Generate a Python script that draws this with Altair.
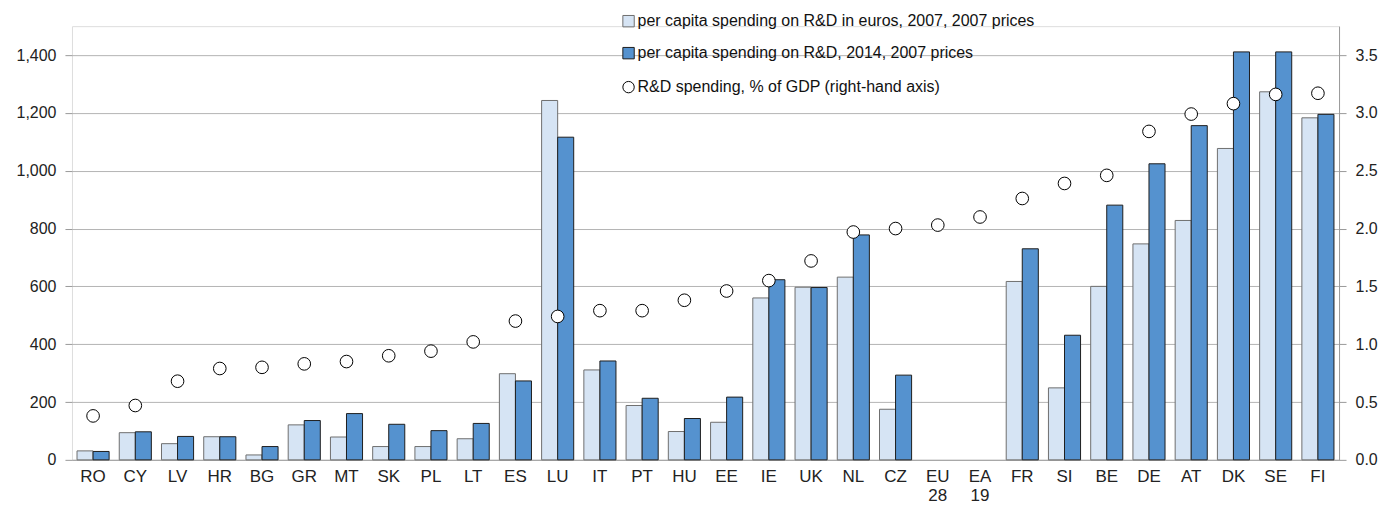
import altair as alt
import pandas as pd

countries = ["RO", "CY", "LV", "HR", "BG", "GR", "MT", "SK", "PL", "LT", "ES", "LU", "IT", "PT", "HU",
             "EE", "IE", "UK", "NL", "CZ", "EU 28", "EA 19", "FR", "SI", "BE", "DE", "AT", "DK", "SE", "FI"]
spend_2007 = [31, 94, 56, 80, 17, 121, 79, 46, 46, 73, 298, 1243, 311, 188, 98,
              130, 560, 597, 632, 175, None, None, 617, 249, 600, 747, 828, 1077, 1273, 1183]
spend_2014 = [29, 97, 81, 80, 46, 136, 160, 123, 101, 126, 273, 1116, 342, 213, 143,
              217, 623, 596, 778, 293, None, None, 730, 431, 881, 1024, 1156, 1411, 1411, 1195]
gdp_share = [0.38, 0.47, 0.68, 0.79, 0.80, 0.83, 0.85, 0.90, 0.94, 1.02, 1.20, 1.24, 1.29, 1.29, 1.38,
             1.46, 1.55, 1.72, 1.97, 2.00, 2.03, 2.10, 2.26, 2.39, 2.46, 2.84, 2.99, 3.08, 3.16, 3.17]

s1 = "per capita spending on R&D in euros, 2007, 2007 prices"
s2 = "per capita spending on R&D, 2014, 2007 prices"
s3 = "R&D spending, % of GDP (right-hand axis)"
left_ticks = [0, 200, 400, 600, 800, 1000, 1200, 1400]
right_ticks = [0.0, 0.5, 1.0, 1.5, 2.0, 2.5, 3.0, 3.5]

rows = []
for c, a, b in zip(countries, spend_2007, spend_2014):
    if a is not None:
        rows.append({"country": c, "series": s1, "value": a})
    if b is not None:
        rows.append({"country": c, "series": s2, "value": b})
bars_df = pd.DataFrame(rows)
pts_df = pd.DataFrame({"country": countries, "gdp": gdp_share, "label": [s3] * len(countries)})

FONT = "Liberation Sans"

x_enc = alt.X("country:N", sort=countries, title=None,
              scale=alt.Scale(paddingInner=0.24, paddingOuter=0.12),
              axis=alt.Axis(labelAngle=0, labelFontSize=17, labelColor="#222", ticks=False,
                            domain=True, domainColor="#a6a6a6", labelPadding=9,
                            labelExpr="split(datum.label, ' ')", labelLineHeight=19,
                            labelFont=FONT))

bars = alt.Chart(bars_df).mark_bar(strokeWidth=1).encode(
    x=x_enc,
    xOffset=alt.XOffset("series:N", sort=[s1, s2], scale=alt.Scale(paddingInner=0, paddingOuter=0)),
    y=alt.Y("value:Q", title=None,
            scale=alt.Scale(domain=[0, 1500], nice=False),
            axis=alt.Axis(values=left_ticks, format=",.0f", grid=True, gridColor="#b4b4b4",
                          domain=False, ticks=True, tickColor="#9a9a9a", tickSize=7,
                          labelFontSize=16, labelColor="#222", labelPadding=9, labelFont=FONT)),
    color=alt.Color("series:N", sort=[s1, s2], title=None,
                    scale=alt.Scale(domain=[s1, s2], range=["#D6E4F4", "#5592CF"]),
                    legend=alt.Legend(orient="none", legendX=549, legendY=-13, symbolType="square",
                                      symbolSize=130, labelFontSize=16, labelFont=FONT,
                                      labelColor="#111", rowPadding=16, padding=0,
                                      labelLimit=600, labelOffset=1, symbolStrokeWidth=1)),
    stroke=alt.Stroke("series:N", sort=[s1, s2], title=None,
                      scale=alt.Scale(domain=[s1, s2], range=["#6e6e6e", "#1e1e1e"]),
                      legend=alt.Legend(orient="none", legendX=549, legendY=-13)),
)

points = alt.Chart(pts_df).mark_point(filled=True, stroke="black", strokeWidth=1, size=160,
                                      opacity=1, fillOpacity=1, strokeOpacity=1,
                                      shape="circle").encode(
    x=alt.X("country:N", sort=countries),
    y=alt.Y("gdp:Q", title=None,
            scale=alt.Scale(domain=[0, 3.75], nice=False),
            axis=alt.Axis(orient="right", values=right_ticks, format=".1f", grid=False,
                          domain=True, domainColor="#9a9a9a", ticks=True, tickColor="#9a9a9a",
                          tickSize=7, labelFontSize=16, labelColor="#222", labelPadding=9,
                          labelFont=FONT)),
    fill=alt.Fill("label:N", title=None, scale=alt.Scale(domain=[s3], range=["white"]),
                  legend=alt.Legend(orient="none", legendX=549, legendY=53, symbolSize=130,
                                    labelFontSize=16, labelFont=FONT, labelColor="#111",
                                    padding=0, labelLimit=600, labelOffset=1,
                                    symbolType="circle", symbolStrokeColor="black",
                                    symbolStrokeWidth=1)),
)

chart = alt.layer(bars, points).resolve_scale(y="independent").properties(
    width=1268, height=434,
    padding={"left": 64, "top": 18, "right": 50, "bottom": 46},
    autosize=alt.AutoSizeParams(type="none"),
).configure_view(stroke=None).configure(font=FONT)

chart.save("out.html", embed_options={"renderer": "svg", "actions": False})
